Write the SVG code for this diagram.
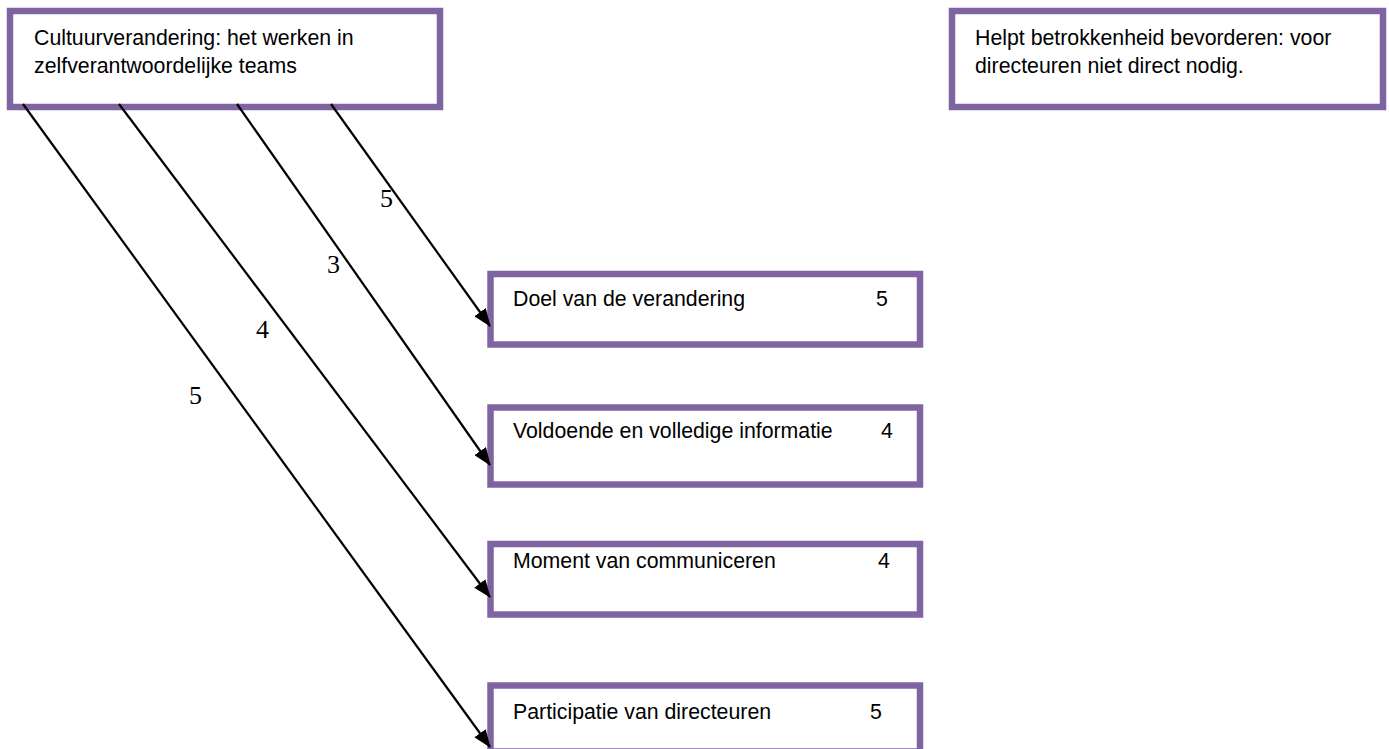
<svg xmlns="http://www.w3.org/2000/svg" width="1389" height="749" viewBox="0 0 1389 749">
<style>
.box{fill:#fff;stroke:#8064A2;stroke-width:6.5}
.t{font-family:"Liberation Sans",Arial,sans-serif;font-size:21.3px;fill:#000}
.n{font-family:"Liberation Serif","Times New Roman",serif;font-size:26px;fill:#000}
.c{stroke:#000;stroke-width:2.2;fill:none;marker-end:url(#ah)}
</style>
<defs>
<marker id="ah" viewBox="0 0 18 14" refX="17" refY="7" markerWidth="18" markerHeight="14" markerUnits="userSpaceOnUse" orient="auto">
<path d="M0,0 L18,7 L0,14 Z" fill="#000"/>
</marker>
</defs>
<rect width="1389" height="749" fill="#fff"/>
<g id="node-cultuur">
<rect class="box" x="10" y="11" width="430" height="96"/>
<text class="t" x="34" y="45">Cultuurverandering: het werken in</text>
<text class="t" x="34" y="73">zelfverantwoordelijke teams</text>
</g>
<g id="node-helpt">
<rect class="box" x="952" y="11" width="431" height="96"/>
<text class="t" x="975" y="45">Helpt betrokkenheid bevorderen: voor</text>
<text class="t" x="975" y="73">directeuren niet direct nodig.</text>
</g>
<g id="node-doel">
<rect class="box" x="490.5" y="274" width="429.5" height="70.5"/>
<text class="t" x="513" y="306">Doel van de verandering</text>
<text class="t" x="876" y="306">5</text>
</g>
<g id="node-voldoende">
<rect class="box" x="490.5" y="407.5" width="429.5" height="77"/>
<text class="t" x="513" y="438">Voldoende en volledige informatie</text>
<text class="t" x="881" y="438">4</text>
</g>
<g id="node-moment">
<rect class="box" x="490.5" y="544" width="429.5" height="70.5"/>
<text class="t" x="513" y="568">Moment van communiceren</text>
<text class="t" x="878" y="568">4</text>
</g>
<g id="node-participatie">
<rect class="box" x="490.5" y="685.5" width="429.5" height="66"/>
<text class="t" x="513" y="719">Participatie van directeuren</text>
<text class="t" x="870" y="719">5</text>
</g>
<g id="connectors">
<line class="c" x1="23" y1="104" x2="490" y2="747"/>
<line class="c" x1="119" y1="104" x2="490" y2="597"/>
<line class="c" x1="237" y1="104" x2="490" y2="465"/>
<line class="c" x1="331" y1="104" x2="490" y2="326"/>
<text class="n" x="380" y="207">5</text>
<text class="n" x="327" y="273">3</text>
<text class="n" x="256" y="338">4</text>
<text class="n" x="189" y="404">5</text>
</g>
</svg>
